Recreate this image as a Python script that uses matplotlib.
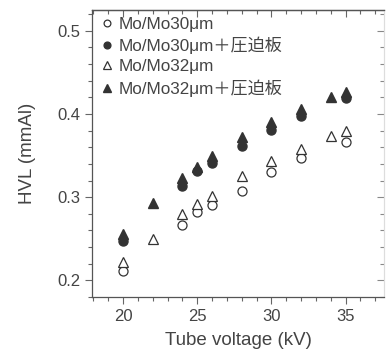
import matplotlib
matplotlib.use("Agg")
import matplotlib.pyplot as plt
from matplotlib.ticker import MultipleLocator

plt.rcParams['font.family'] = ['Liberation Sans', 'Noto Sans CJK JP', 'DejaVu Sans']

# --- data ---
kv_30 = [20, 24, 25, 26, 28, 30, 32, 35]
hvl_30 = [0.211, 0.266, 0.282, 0.291, 0.308, 0.330, 0.347, 0.366]
hvl_30_comp = [0.247, 0.314, 0.331, 0.341, 0.361, 0.381, 0.398, 0.419]

kv_32 = [20, 22, 24, 25, 26, 28, 30, 32, 34, 35]
hvl_32 = [0.222, 0.250, 0.280, 0.292, 0.302, 0.325, 0.344, 0.358, 0.373, 0.379]
hvl_32_comp = [0.256, 0.293, 0.323, 0.336, 0.350, 0.372, 0.390, 0.406, 0.420, 0.426]

labels = ["Mo/Mo30μm", "Mo/Mo30μm＋圧迫板", "Mo/Mo32μm", "Mo/Mo32μm＋圧迫板"]

INK = "#333333"
TXT = "#444444"
TICK = "#666666"

fig = plt.figure(figsize=(3.86, 3.52), dpi=100)
ax = fig.add_axes([0.238, 0.156, 0.757, 0.816])

ms = 6.5
ax.plot(kv_30, hvl_30, "o", ms=ms, mfc="white", mec=INK, mew=0.9, label=labels[0], zorder=3)
ax.plot(kv_30, hvl_30_comp, "o", ms=ms, mfc=INK, mec=INK, label=labels[1], zorder=4)
ax.plot(kv_32, hvl_32, "^", ms=ms + 0.5, mfc="white", mec=INK, mew=0.9, label=labels[2], zorder=3)
ax.plot(kv_32, hvl_32_comp, "^", ms=ms + 0.5, mfc=INK, mec=INK, label=labels[3], zorder=4)

ax.set_xlim(17.9, 37.6)
ax.set_ylim(0.18, 0.525)
ax.xaxis.set_major_locator(MultipleLocator(5))
ax.xaxis.set_minor_locator(MultipleLocator(1))
ax.yaxis.set_major_locator(MultipleLocator(0.1))
ax.yaxis.set_minor_locator(MultipleLocator(0.02))
ax.yaxis.set_major_formatter(matplotlib.ticker.FormatStrFormatter("%.1f"))

ax.tick_params(which="both", direction="out", colors=TICK, labelcolor=TXT,
               labelsize=12, width=0.8)
ax.tick_params(which="major", length=5)
ax.tick_params(which="minor", length=3)

for side in ["left", "bottom", "top"]:
    ax.spines[side].set_color("#555555")
    ax.spines[side].set_linewidth(0.9)
ax.spines["right"].set_color("#dddddd")

# inward ticks along the top and right frame
top = ax.secondary_xaxis("top")
top.xaxis.set_major_locator(MultipleLocator(5))
top.xaxis.set_minor_locator(MultipleLocator(1))
top.tick_params(which="both", direction="in", colors=TICK, labeltop=False, width=0.8)
top.tick_params(which="major", length=5)
top.tick_params(which="minor", length=3)
top.spines["top"].set_color("#555555")
top.spines["top"].set_linewidth(0.9)

right = ax.secondary_yaxis("right")
right.yaxis.set_major_locator(MultipleLocator(0.1))
right.yaxis.set_minor_locator(MultipleLocator(0.02))
right.tick_params(which="both", direction="in", colors="#888888", labelright=False, width=0.8)
right.tick_params(which="major", length=5)
right.tick_params(which="minor", length=3)
right.spines["right"].set_color("#dddddd")

ax.set_xlabel("Tube voltage (kV)", fontsize=13.5, color=TXT, labelpad=6)
ax.set_ylabel("HVL (mmAl)", fontsize=13.5, color=TXT, labelpad=15)

leg = ax.legend(loc="upper left", frameon=False, fontsize=12.3, handletextpad=0.15,
                borderaxespad=0.2, labelspacing=0.3, handlelength=1.0,
                markerscale=0.75, borderpad=0.2)
for t in leg.get_texts():
    t.set_color(TXT)

fig.savefig("out.png", dpi=100)
